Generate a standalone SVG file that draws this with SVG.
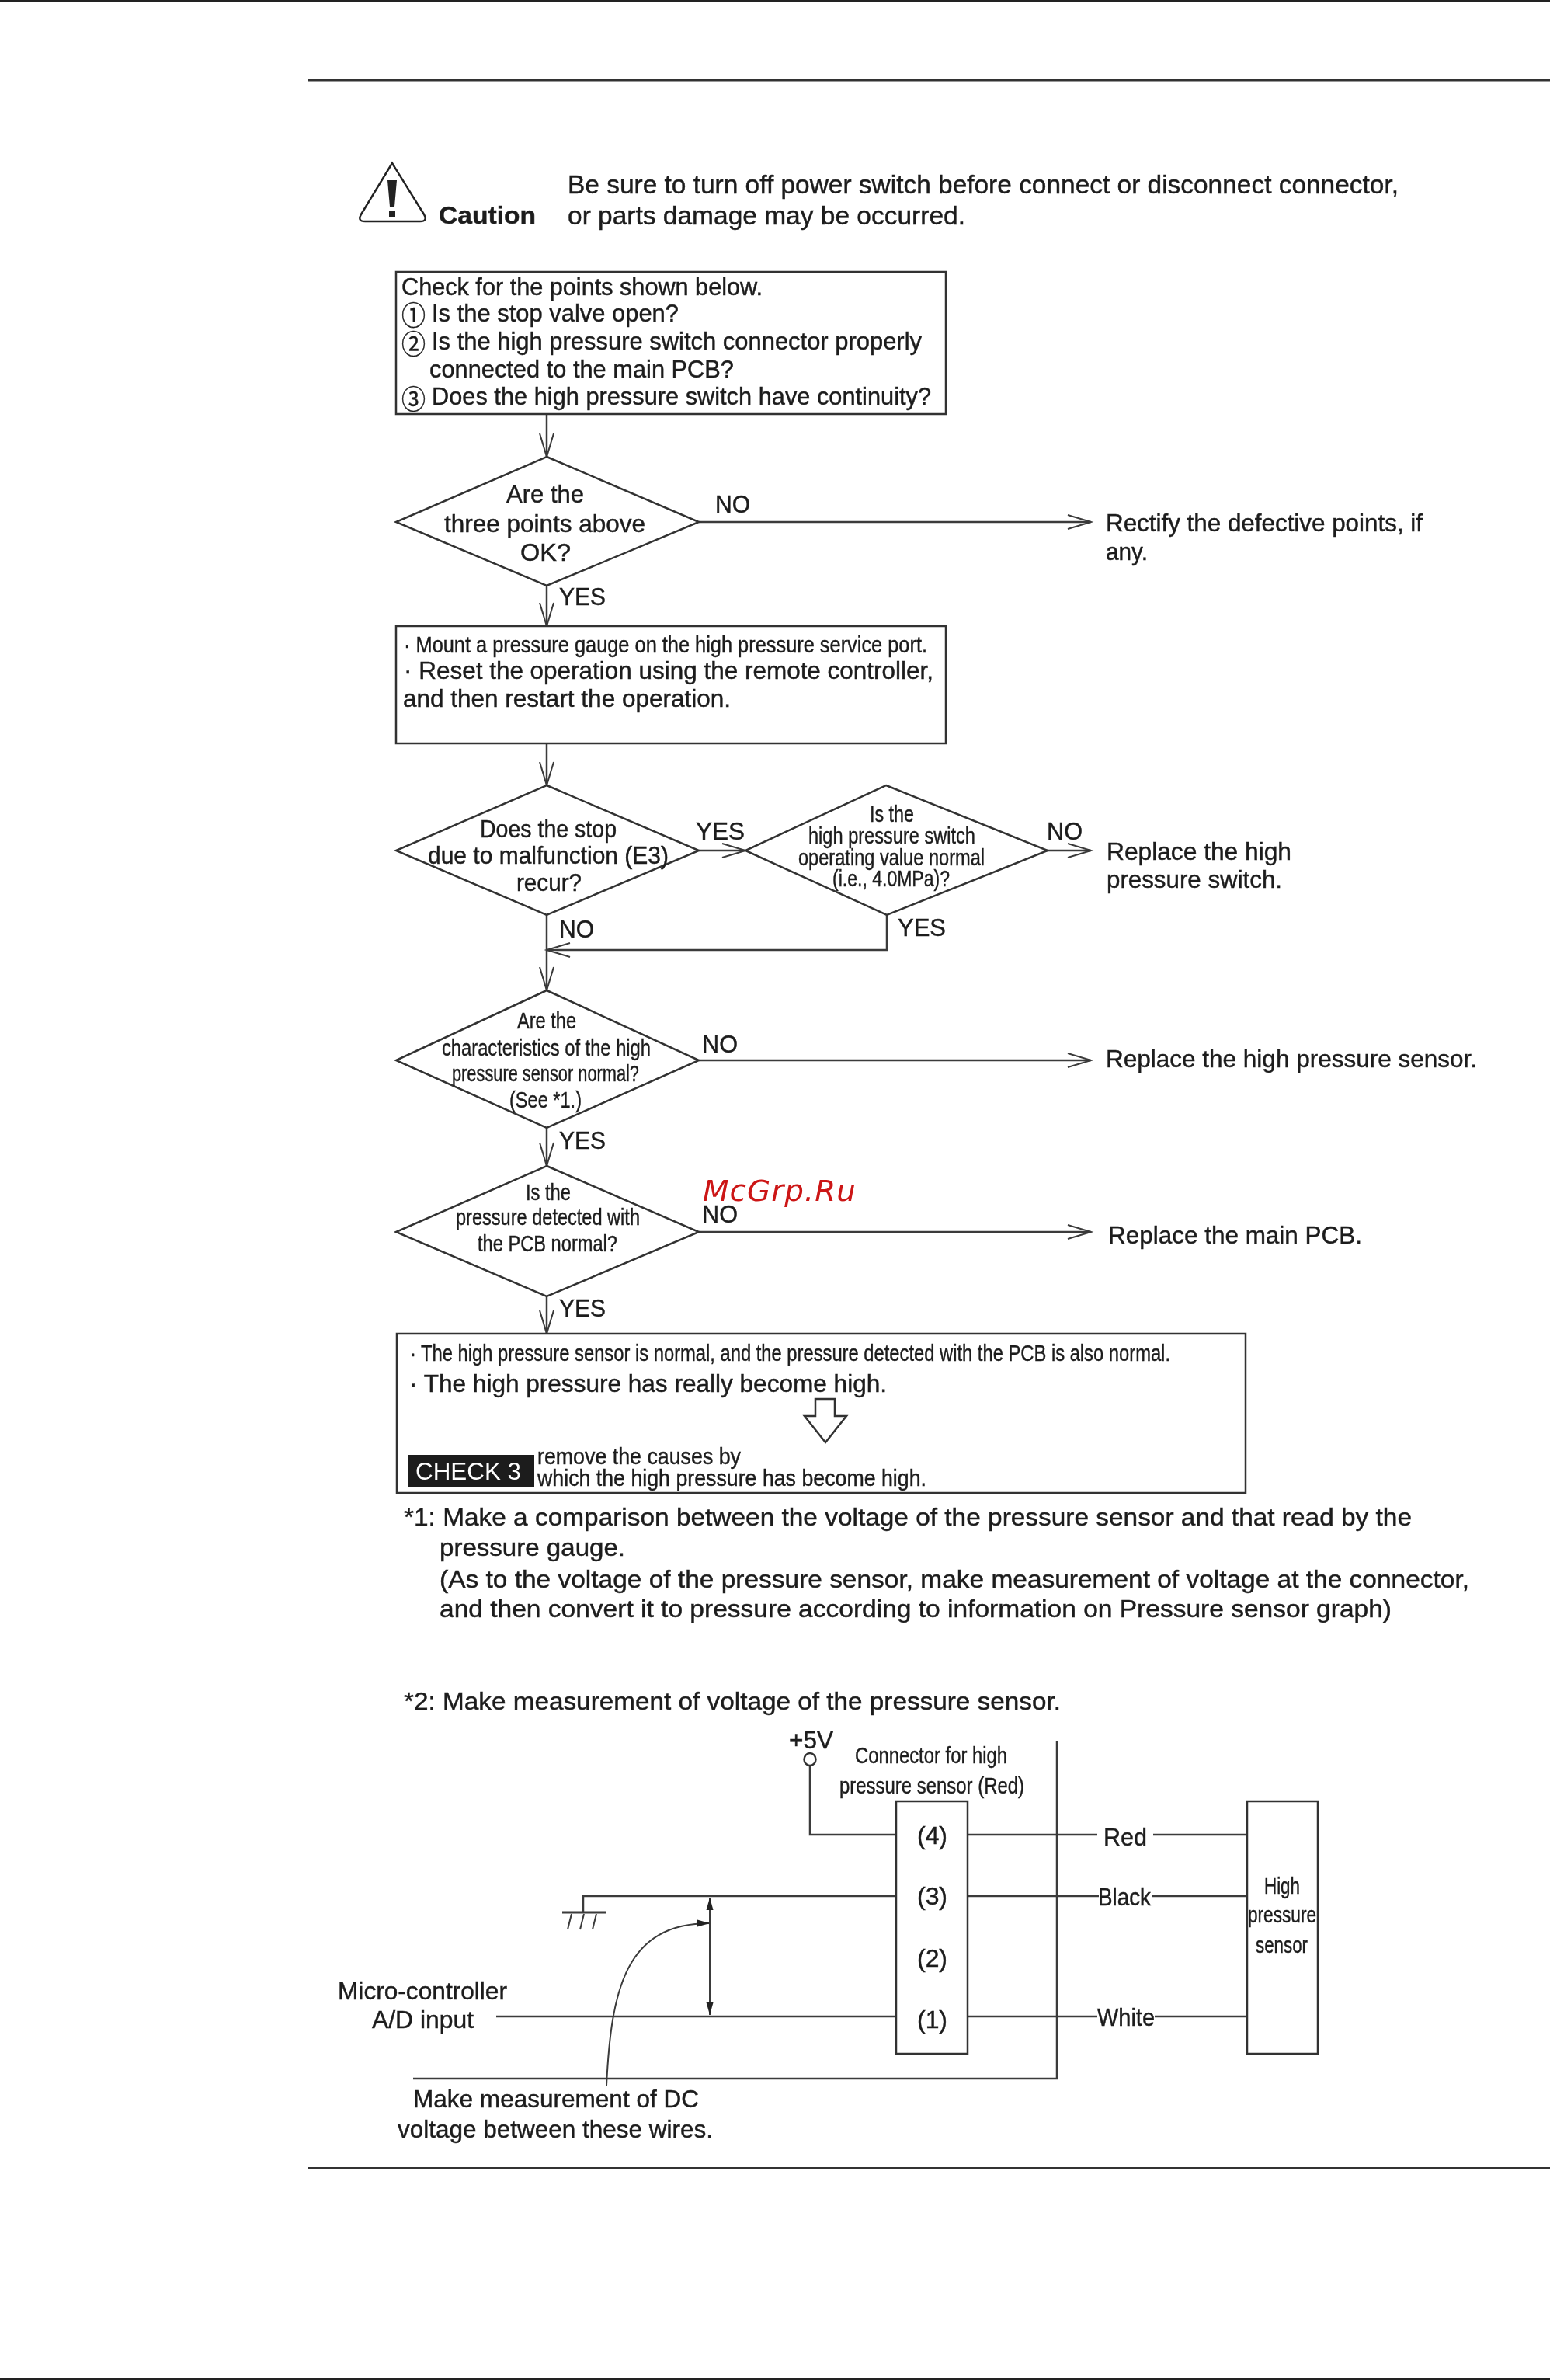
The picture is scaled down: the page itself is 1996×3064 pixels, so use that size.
<svg xmlns="http://www.w3.org/2000/svg" width="1996" height="3064" viewBox="0 0 1996 3064">
<style>
text{font-family:"Liberation Sans",Arial,sans-serif;font-size:32px;fill:#1c1c1c;stroke:#1c1c1c;stroke-width:.45}
.s{font-size:30px}
.n{fill:#fff;stroke:#333;stroke-width:2.5}
.l{fill:none;stroke:#3a3a3a;stroke-width:2.5}
.a{marker-end:url(#open)}
.c{font-family:"Noto Sans CJK JP","Liberation Sans",sans-serif;font-size:35px}
</style>
<defs>
<filter id="soft" filterUnits="userSpaceOnUse" x="0" y="0" width="1996" height="3064"><feGaussianBlur stdDeviation="0.7"/></filter>
<marker id="open" markerUnits="userSpaceOnUse" markerWidth="36" markerHeight="24" refX="31" refY="12" orient="auto"><path d="M1,3 L31,12 L1,21" fill="none" stroke="#3a3a3a" stroke-width="2"/></marker>
<marker id="fill" markerUnits="userSpaceOnUse" markerWidth="18" markerHeight="12" refX="16" refY="6" orient="auto-start-reverse"><path d="M0,1.5 L16,6 L0,10.5 Z" fill="#222"/></marker>
</defs>
<rect width="1996" height="3064" fill="#fff"/>
<g filter="url(#soft)">
<g id="page">
<rect x="0" y="0" width="1996" height="2" fill="#222"/>
<rect x="397" y="102" width="1599" height="2.5" fill="#333"/>
<rect x="397" y="2790" width="1599" height="2.5" fill="#333"/>
<rect x="0" y="3061" width="1996" height="3" fill="#222"/>
<text x="905" y="1546" textLength="198" lengthAdjust="spacingAndGlyphs" style="font-family:'DejaVu Sans',sans-serif;font-size:37px;font-style:italic;fill:#cc1414;stroke:none;letter-spacing:1px">McGrp.Ru</text>
</g>
<g id="connectors">
<path class="l a" d="M704 533V588"/>
<path class="l a" d="M900 672H1405"/>
<path class="l a" d="M704 754V806"/>
<path class="l a" d="M704 957V1011"/>
<path class="l a" d="M900 1095H960"/>
<path class="l a" d="M1347 1095H1405"/>
<path class="l a" d="M1142 1178V1223H704"/>
<path class="l a" d="M704 1178V1275"/>
<path class="l a" d="M900 1365H1405"/>
<path class="l a" d="M704 1452V1501"/>
<path class="l a" d="M900 1586H1405"/>
<path class="l a" d="M704 1669V1717"/>
</g>
<g id="caution">
<path d="M505 210 L465 276 Q460 285 470 285 H541 Q551 285 546 276 Z" fill="#fff" stroke="#222" stroke-width="2.5"/>
<path d="M499 232 H511 L508 266 H502 Z" fill="#222"/><rect x="501" y="271" width="8" height="8" fill="#222"/>
<text x="565" y="288" textLength="125" lengthAdjust="spacingAndGlyphs" style="font-weight:bold">Caution</text>
<text x="731" y="249" textLength="1070" lengthAdjust="spacingAndGlyphs" style="font-size:33px">Be sure to turn off power switch before connect or disconnect connector,</text>
<text x="731" y="289" textLength="512" lengthAdjust="spacingAndGlyphs" style="font-size:33px">or parts damage may be occurred.</text>
</g>
<g id="box-check">
<rect class="n" x="510" y="350" width="708" height="183"/>
<text x="517" y="380" textLength="465" lengthAdjust="spacingAndGlyphs">Check for the points shown below.</text>
<text class="c" x="517" y="419" textLength="31" lengthAdjust="spacingAndGlyphs">①</text>
<text x="556" y="414" textLength="318" lengthAdjust="spacingAndGlyphs">Is the stop valve open?</text>
<text class="c" x="517" y="456" textLength="31" lengthAdjust="spacingAndGlyphs">②</text>
<text x="556" y="450" textLength="631" lengthAdjust="spacingAndGlyphs">Is the high pressure switch connector properly</text>
<text x="553" y="486" textLength="392" lengthAdjust="spacingAndGlyphs">connected to the main PCB?</text>
<text class="c" x="517" y="527" textLength="31" lengthAdjust="spacingAndGlyphs">③</text>
<text x="556" y="521" textLength="643" lengthAdjust="spacingAndGlyphs">Does the high pressure switch have continuity?</text>
</g>
<g id="d1">
<path class="n" d="M704 588L900 672L704 754L510 672Z"/>
<text x="652" y="647" textLength="100" lengthAdjust="spacingAndGlyphs">Are the</text>
<text x="572" y="685" textLength="259" lengthAdjust="spacingAndGlyphs">three points above</text>
<text x="670" y="722" textLength="65" lengthAdjust="spacingAndGlyphs">OK?</text>
</g>
<g id="labels-d1">
<text x="921" y="660" textLength="45" lengthAdjust="spacingAndGlyphs">NO</text>
<text x="720" y="779" textLength="60" lengthAdjust="spacingAndGlyphs">YES</text>
</g>
<g id="t-rectify">
<text x="1424" y="684" textLength="408" lengthAdjust="spacingAndGlyphs">Rectify the defective points, if</text>
<text x="1424" y="721" textLength="54" lengthAdjust="spacingAndGlyphs">any.</text>
</g>
<g id="box-mount">
<rect class="n" x="510" y="806" width="708" height="151"/>
<text class="s" x="520" y="840" textLength="674" lengthAdjust="spacingAndGlyphs">· Mount a pressure gauge on the high pressure service port.</text>
<text x="520" y="874" textLength="682" lengthAdjust="spacingAndGlyphs">· Reset the operation using the remote controller,</text>
<text x="519" y="910" textLength="422" lengthAdjust="spacingAndGlyphs">and then restart the operation.</text>
</g>
<g id="d2">
<path class="n" d="M704 1011L900 1095L704 1178L510 1095Z"/>
<text x="618" y="1078" textLength="176" lengthAdjust="spacingAndGlyphs">Does the stop</text>
<text x="551" y="1112" textLength="310" lengthAdjust="spacingAndGlyphs">due to malfunction (E3)</text>
<text x="665" y="1147" textLength="84" lengthAdjust="spacingAndGlyphs">recur?</text>
</g>
<g id="d3">
<path class="n" d="M1141 1011L1349 1095L1142 1178L960 1095Z"/>
<text class="s" x="1120" y="1058" textLength="57" lengthAdjust="spacingAndGlyphs">Is the</text>
<text class="s" x="1041" y="1086" textLength="215" lengthAdjust="spacingAndGlyphs">high pressure switch</text>
<text class="s" x="1028" y="1114" textLength="240" lengthAdjust="spacingAndGlyphs">operating value normal</text>
<text class="s" x="1072" y="1141" textLength="151" lengthAdjust="spacingAndGlyphs">(i.e., 4.0MPa)?</text>
</g>
<g id="labels-d23">
<text x="896" y="1081" textLength="63" lengthAdjust="spacingAndGlyphs">YES</text>
<text x="1348" y="1081" textLength="46" lengthAdjust="spacingAndGlyphs">NO</text>
<text x="720" y="1207" textLength="45" lengthAdjust="spacingAndGlyphs">NO</text>
<text x="1156" y="1205" textLength="62" lengthAdjust="spacingAndGlyphs">YES</text>
<text x="1425" y="1107" textLength="238" lengthAdjust="spacingAndGlyphs">Replace the high</text>
<text x="1425" y="1143" textLength="226" lengthAdjust="spacingAndGlyphs">pressure switch.</text>
</g>
<g id="d4">
<path class="n" d="M704 1275L900 1365L704 1452L510 1365Z"/>
<text class="s" x="666" y="1324" textLength="76" lengthAdjust="spacingAndGlyphs">Are the</text>
<text class="s" x="569" y="1359" textLength="269" lengthAdjust="spacingAndGlyphs">characteristics of the high</text>
<text class="s" x="582" y="1392" textLength="241" lengthAdjust="spacingAndGlyphs">pressure sensor normal?</text>
<text class="s" x="656" y="1426" textLength="93" lengthAdjust="spacingAndGlyphs">(See *1.)</text>
</g>
<g id="labels-d4">
<text x="904" y="1355" textLength="46" lengthAdjust="spacingAndGlyphs">NO</text>
<text x="720" y="1479" textLength="60" lengthAdjust="spacingAndGlyphs">YES</text>
<text x="1424" y="1374" textLength="478" lengthAdjust="spacingAndGlyphs">Replace the high pressure sensor.</text>
</g>
<g id="d5">
<path class="n" d="M704 1501L900 1586L704 1669L510 1586Z"/>
<text class="s" x="677" y="1545" textLength="58" lengthAdjust="spacingAndGlyphs">Is the</text>
<text class="s" x="587" y="1577" textLength="237" lengthAdjust="spacingAndGlyphs">pressure detected with</text>
<text class="s" x="615" y="1611" textLength="180" lengthAdjust="spacingAndGlyphs">the PCB normal?</text>
</g>
<g id="labels-d5">
<text x="904" y="1574" textLength="46" lengthAdjust="spacingAndGlyphs">NO</text>
<text x="720" y="1695" textLength="60" lengthAdjust="spacingAndGlyphs">YES</text>
<text x="1427" y="1601" textLength="327" lengthAdjust="spacingAndGlyphs">Replace the main PCB.</text>
</g>
<g id="box-result">
<rect class="n" x="511" y="1717" width="1093" height="205"/>
<text class="s" x="528" y="1752" textLength="979" lengthAdjust="spacingAndGlyphs">· The high pressure sensor is normal, and the pressure detected with the PCB is also normal.</text>
<text x="527" y="1792" textLength="615" lengthAdjust="spacingAndGlyphs">· The high pressure has really become high.</text>
<path d="M1050 1801H1075V1823H1090L1063 1857L1036 1823H1050Z" fill="#fff" stroke="#333" stroke-width="2.5"/>
<rect x="526" y="1873" width="162" height="41" fill="#1a1a1a"/>
<text x="535" y="1905" textLength="136" lengthAdjust="spacingAndGlyphs" style="font-size:31px;fill:#fff;stroke:none">CHECK 3</text>
<text class="s" x="692" y="1885" textLength="262" lengthAdjust="spacingAndGlyphs">remove the causes by</text>
<text class="s" x="692" y="1913" textLength="501" lengthAdjust="spacingAndGlyphs">which the high pressure has become high.</text>
</g>
<g id="notes">
<text x="520" y="1964" textLength="1298" lengthAdjust="spacingAndGlyphs">*1: Make a comparison between the voltage of the pressure sensor and that read by the</text>
<text x="566" y="2003" textLength="239" lengthAdjust="spacingAndGlyphs">pressure gauge.</text>
<text x="566" y="2044" textLength="1326" lengthAdjust="spacingAndGlyphs">(As to the voltage of the pressure sensor, make measurement of voltage at the connector,</text>
<text x="566" y="2082" textLength="1226" lengthAdjust="spacingAndGlyphs">and then convert it to pressure according to information on Pressure sensor graph)</text>
<text x="520" y="2201" textLength="846" lengthAdjust="spacingAndGlyphs">*2: Make measurement of voltage of the pressure sensor.</text>
</g>
<g id="circuit-wires">
<path class="l" d="M1361 2241V2676H532"/>
<ellipse class="n" cx="1043" cy="2265" rx="7.5" ry="8"/>
<path class="l" d="M1043 2273V2362H1154"/>
<path class="l" d="M1246 2362H1413M1485 2362H1605"/>
<path class="l" d="M1246 2441H1415M1483 2441H1605"/>
<path class="l" d="M1246 2596H1413M1487 2596H1605"/>
<path class="l" d="M751 2462V2441H1154"/>
<path class="l" d="M724 2462H780" style="stroke-width:3"/>
<path class="l" d="M736 2464L731 2484M752 2464L747 2484M768 2464L763 2484" style="stroke-width:2"/>
<path class="l" d="M639 2596H1154"/>
<path class="l" d="M914 2443V2594" style="stroke-width:2;marker-start:url(#fill);marker-end:url(#fill)"/>
<path class="l" d="M781 2685C787 2560 806 2476 914 2476" style="stroke-width:2;marker-end:url(#fill)"/>
</g>
<g id="connector-box">
<rect class="n" x="1154" y="2319" width="92" height="325"/>
<text x="1181" y="2374" textLength="39" lengthAdjust="spacingAndGlyphs">(4)</text>
<text x="1181" y="2452" textLength="39" lengthAdjust="spacingAndGlyphs">(3)</text>
<text x="1181" y="2532" textLength="39" lengthAdjust="spacingAndGlyphs">(2)</text>
<text x="1181" y="2611" textLength="39" lengthAdjust="spacingAndGlyphs">(1)</text>
</g>
<g id="sensor-box">
<rect class="n" x="1606" y="2319" width="91" height="325"/>
<text class="s" x="1628" y="2438" textLength="46" lengthAdjust="spacingAndGlyphs">High</text>
<text class="s" x="1607" y="2475" textLength="88" lengthAdjust="spacingAndGlyphs">pressure</text>
<text class="s" x="1617" y="2514" textLength="67" lengthAdjust="spacingAndGlyphs">sensor</text>
</g>
<g id="circuit-labels">
<text x="1016" y="2251" textLength="57" lengthAdjust="spacingAndGlyphs">+5V</text>
<text class="s" x="1101" y="2270" textLength="196" lengthAdjust="spacingAndGlyphs">Connector for high</text>
<text class="s" x="1081" y="2309" textLength="238" lengthAdjust="spacingAndGlyphs">pressure sensor (Red)</text>
<text x="1421" y="2376" textLength="56" lengthAdjust="spacingAndGlyphs">Red</text>
<text x="1414" y="2453" textLength="68" lengthAdjust="spacingAndGlyphs">Black</text>
<text x="1413" y="2608" textLength="74" lengthAdjust="spacingAndGlyphs">White</text>
<text x="435" y="2574" textLength="218" lengthAdjust="spacingAndGlyphs">Micro-controller</text>
<text x="479" y="2611" textLength="131" lengthAdjust="spacingAndGlyphs">A/D input</text>
<text x="532" y="2713" textLength="368" lengthAdjust="spacingAndGlyphs">Make measurement of DC</text>
<text x="512" y="2752" textLength="406" lengthAdjust="spacingAndGlyphs">voltage between these wires.</text>
</g>
</g>
</svg>
